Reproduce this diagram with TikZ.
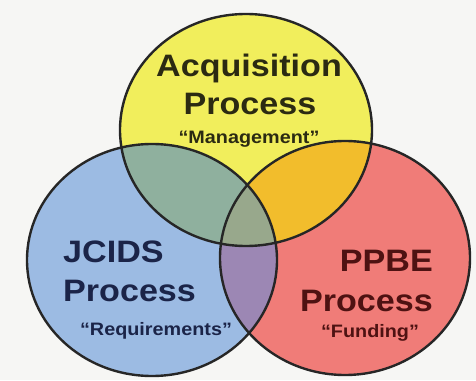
\documentclass[tikz,border=0pt]{standalone}
\usepackage{fontspec}
\newfontfamily\vennfont[FakeStretch=1.1]{Liberation Sans}
\usepackage{tikz}
\usetikzlibrary{calc}

\definecolor{bgcol}{HTML}{F6F6F4}
\definecolor{acqyellow}{HTML}{F1EE5C}
\definecolor{jcidsblue}{HTML}{9CBBE3}
\definecolor{ppbered}{HTML}{F07C78}
\definecolor{acqjcids}{HTML}{8FB09E}
\definecolor{acqppbe}{HTML}{F2BD2C}
\definecolor{jcidsppbe}{HTML}{9C87B4}
\definecolor{allthree}{HTML}{98A88C}
\definecolor{acqtext}{HTML}{2B2A12}
\definecolor{jcidstext}{HTML}{1B2448}
\definecolor{ppbetext}{HTML}{4E1212}

\tikzset{
  rim/.style={draw=black!85,line width=2.4pt},
  bigtxt/.style={font=\vennfont\bfseries\fontsize{31}{31}\selectfont,inner sep=0pt},
  smalltxt/.style={font=\vennfont\bfseries\fontsize{18}{18}\selectfont,inner sep=0pt},
}

\begin{document}
\begin{tikzpicture}[x=1pt,y=1pt]
                \fill[bgcol] (0,0) rectangle (476,380);
                \useasboundingbox (0,0) rectangle (476,380);
                \coordinate (Acq) at (246,250);
                \coordinate (Jci) at (152,120);
                \coordinate (Ppb) at (345,122);

                \fill[jcidsblue] (Jci) ellipse (125pt and 116pt);
                \fill[ppbered] (Ppb) ellipse (125pt and 117pt);
                \fill[acqyellow] (Acq) ellipse (126pt and 116pt);

                \begin{scope}
                \clip (Acq) ellipse (126pt and 116pt);
                \fill[acqppbe] (Ppb) ellipse (125pt and 117pt);
                \end{scope}
                \begin{scope}
                \clip (Jci) ellipse (125pt and 116pt);
                \fill[acqjcids] (Acq) ellipse (126pt and 116pt);
                \fill[jcidsppbe] (Ppb) ellipse (125pt and 117pt);
                \clip (Ppb) ellipse (125pt and 117pt);
                \fill[allthree] (Acq) ellipse (126pt and 116pt);
                \end{scope}

                \draw[rim] (Jci) ellipse (125pt and 116pt);
                \draw[rim] (Ppb) ellipse (125pt and 117pt);
                \draw[rim] (Acq) ellipse (126pt and 116pt);

                \node[bigtxt,acqtext,anchor=base] (acqname) at (249,303) {Acquisition};
                \node[bigtxt,acqtext,anchor=base] (acqproc) at (250,265) {Process};
                \node[smalltxt,acqtext,anchor=base] (acqrole) at (249,236) {“Management”};

                \node[bigtxt,jcidstext,anchor=base west] (jciname) at (63,117) {JCIDS};
                \node[bigtxt,jcidstext,anchor=base west] (jciproc) at (63,78) {Process};
                \node[smalltxt,jcidstext,anchor=base] (jcirole) at (156,45) {“Requirements”};

                \node[bigtxt,ppbetext,anchor=base east] (ppbname) at (433,108) {PPBE};
                \node[bigtxt,ppbetext,anchor=base east] (ppbproc) at (433,68) {Process};
                \node[smalltxt,ppbetext,anchor=base] (ppbrole) at (370,42) {“Funding”};
\end{tikzpicture}
\end{document}
